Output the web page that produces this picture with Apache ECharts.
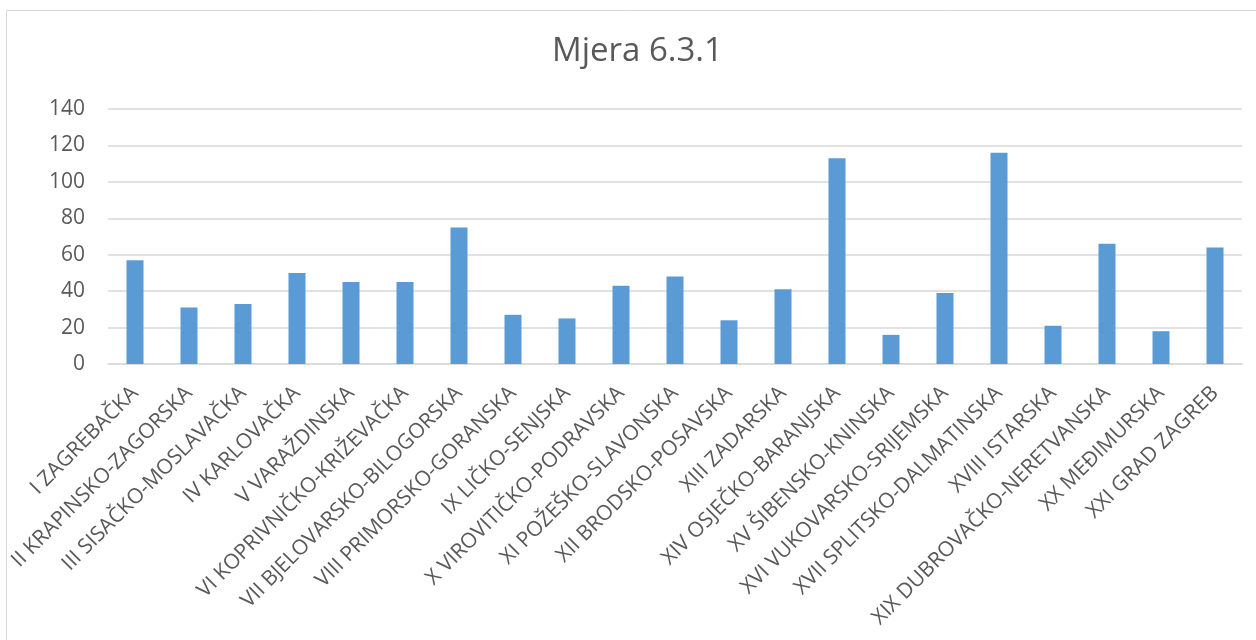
<!DOCTYPE html>
<html>
<head>
<meta charset="utf-8">
<script src="https://cdn.jsdelivr.net/npm/echarts@6/dist/echarts.min.js"></script>
<style>
  html, body { margin: 0; padding: 0; background: #ffffff; }
  #chart { width: 1256px; height: 640px; }
</style>
</head>
<body>
<div id="chart"></div>
<script>
const titleText = 'Mjera 6.3.1';
const categories = [
  'I ZAGREBAČKA',
  'II KRAPINSKO-ZAGORSKA',
  'III SISAČKO-MOSLAVAČKA',
  'IV KARLOVAČKA',
  'V VARAŽDINSKA',
  'VI KOPRIVNIČKO-KRIŽEVAČKA',
  'VII BJELOVARSKO-BILOGORSKA',
  'VIII PRIMORSKO-GORANSKA',
  'IX LIČKO-SENJSKA',
  'X VIROVITIČKO-PODRAVSKA',
  'XI POŽEŠKO-SLAVONSKA',
  'XII BRODSKO-POSAVSKA',
  'XIII ZADARSKA',
  'XIV OSJEČKO-BARANJSKA',
  'XV ŠIBENSKO-KNINSKA',
  'XVI VUKOVARSKO-SRIJEMSKA',
  'XVII SPLITSKO-DALMATINSKA',
  'XVIII ISTARSKA',
  'XIX DUBROVAČKO-NERETVANSKA',
  'XX MEĐIMURSKA',
  'XXI GRAD ZAGREB'
];
const values = [57, 31, 33, 50, 45, 45, 75, 27, 25, 43, 48, 24, 41, 113, 16, 39, 116, 21, 66, 18, 64];
const yMin = 0;
const yMax = 140;
const yStep = 20;

const chart = echarts.init(document.getElementById('chart'), null, { renderer: 'canvas' });
const textColor = '#595959';
const font = '"Open Sans", "Noto Sans", sans-serif';

chart.setOption({
  backgroundColor: '#ffffff',
  animation: false,
  graphic: [{
    type: 'rect',
    silent: true,
    shape: { x: 6.5, y: 10.5, width: 1400, height: 800 },
    style: { fill: 'none', stroke: '#d9d9d9', lineWidth: 1 }
  }],
  title: {
    text: titleText,
    left: 552,
    top: 35,
    padding: 0,
    textStyle: { color: textColor, fontSize: 33, fontWeight: 'normal', fontFamily: font }
  },
  grid: { left: 108, right: 14, top: 109, bottom: 276, containLabel: false },
  xAxis: {
    type: 'category',
    data: categories,
    axisLine: { show: true, lineStyle: { color: '#d9d9d9', width: 1.5 } },
    axisTick: { show: false },
    axisLabel: {
      interval: 0,
      rotate: 45,
      margin: 26,
      color: textColor,
      fontSize: 21,
      fontFamily: font
    }
  },
  yAxis: {
    type: 'value',
    min: yMin,
    max: yMax,
    interval: yStep,
    axisLine: { show: false },
    axisTick: { show: false },
    splitLine: { show: true, lineStyle: { color: '#d9d9d9', width: 1.5 } },
    axisLabel: { color: textColor, fontSize: 21, fontFamily: font, margin: 23 }
  },
  series: [{
    type: 'bar',
    data: values,
    barWidth: 17,
    itemStyle: { color: '#5b9bd5' }
  }]
});
</script>
</body>
</html>
